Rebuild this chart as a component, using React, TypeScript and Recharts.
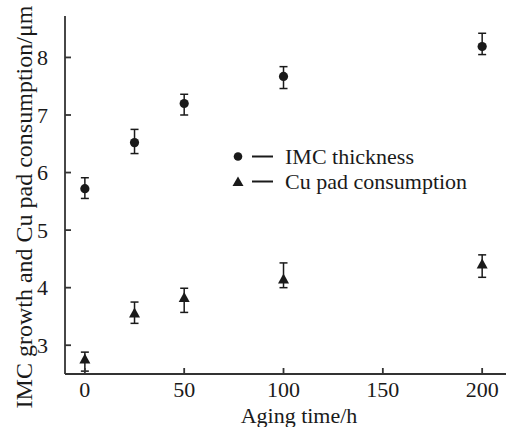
import React from 'react';
import { ScatterChart, Scatter, XAxis, YAxis, ErrorBar, Legend } from 'recharts';

// aging time (h)
const agingTime = [0, 25, 50, 100, 200];

// IMC thickness (um) with asymmetric error (down / up)
const imcThickness = [5.72, 6.52, 7.2, 7.67, 8.19];
const imcErrDown = [0.17, 0.19, 0.2, 0.21, 0.14];
const imcErrUp = [0.19, 0.23, 0.16, 0.17, 0.23];

// Cu pad consumption (um)
const cuConsumption = [2.76, 3.56, 3.83, 4.15, 4.41];
const cuErrDown = [0.21, 0.18, 0.26, 0.15, 0.23];
const cuErrUp = [0.12, 0.19, 0.16, 0.28, 0.16];

const xTicks = [0, 50, 100, 150, 200];
const yTicks = [3, 4, 5, 6, 7, 8];

const seriesNames = ['IMC thickness', 'Cu pad consumption'];

const INK = '#1a1a1a';
const AXIS = '#333';
const FONT = '"Liberation Serif", "Times New Roman", serif';

const imcData = agingTime.map((t, i) => ({
  x: t,
  y: imcThickness[i],
  err: [imcErrDown[i], imcErrUp[i]],
}));

const cuData = agingTime.map((t, i) => ({
  x: t,
  y: cuConsumption[i],
  err: [cuErrDown[i], cuErrUp[i]],
}));

const Dot = (props: any) => {
  const { cx, cy } = props;
  if (cx == null || cy == null) return null;
  return <circle cx={cx} cy={cy} r={4.6} fill={INK} />;
};

const Tri = (props: any) => {
  const { cx, cy } = props;
  if (cx == null || cy == null) return null;
  return <polygon points={`${cx - 5.5},${cy + 4.5} ${cx + 5.5},${cy + 4.5} ${cx},${cy - 5.5}`} fill={INK} />;
};

const LegendBox = () => (
  <div style={{ fontFamily: FONT, fontSize: 22, color: INK }}>
    {seriesNames.map((name, i) => (
      <div key={name} style={{ display: 'flex', alignItems: 'center', height: 25 }}>
        <svg width={50} height={25} style={{ flexShrink: 0 }}>
          {i === 0 ? (
            <circle cx={8} cy={12.5} r={4.3} fill={INK} />
          ) : (
            <polygon points="2.5,17 13.5,17 8,7.5" fill={INK} />
          )}
          <line x1={22} x2={43} y1={12.5} y2={12.5} stroke={INK} strokeWidth={2} />
        </svg>
        <span style={{ marginLeft: 5, lineHeight: '25px', whiteSpace: 'nowrap' }}>{name}</span>
      </div>
    ))}
  </div>
);

export default function App() {
  return (
    <div
      style={{
        position: 'absolute',
        left: 0,
        top: 0,
        width: 506,
        height: 427,
        overflow: 'hidden',
        background: '#fff',
        fontFamily: FONT,
      }}
    >
      <ScatterChart width={510} height={427} margin={{ top: 16, right: 4, bottom: 0, left: 0 }}>
        <XAxis
          dataKey="x"
          type="number"
          domain={[-10, 212]}
          ticks={xTicks}
          height={53}
          tickSize={-6}
          tickMargin={13}
          stroke={AXIS}
          strokeWidth={1.8}
          tick={{ fill: INK, fontSize: 22, fontFamily: FONT }}
        />
        <XAxis
          xAxisId="top"
          orientation="top"
          type="number"
          domain={[-10, 212]}
          height={0}
          tick={false}
          tickLine={false}
          stroke={AXIS}
          strokeWidth={1.8}
        />
        <YAxis
          dataKey="y"
          type="number"
          domain={[2.5, 8.72]}
          ticks={yTicks}
          width={65}
          tickSize={-6}
          tickMargin={23}
          stroke={AXIS}
          strokeWidth={1.8}
          tick={{ fill: INK, fontSize: 22, fontFamily: FONT }}
        />
        <Legend
          layout="horizontal"
          verticalAlign="middle"
          align="center"
          content={() => <LegendBox />}
          wrapperStyle={{ position: 'absolute', left: 230, top: 144, width: 270 }}
        />
        <Scatter name={seriesNames[0]} data={imcData} shape={<Dot />} isAnimationActive={false}>
          <ErrorBar dataKey="err" direction="y" width={4} stroke={INK} strokeWidth={1.5} />
        </Scatter>
        <Scatter name={seriesNames[1]} data={cuData} shape={<Tri />} isAnimationActive={false}>
          <ErrorBar dataKey="err" direction="y" width={4} stroke={INK} strokeWidth={1.5} />
        </Scatter>
        <text
          x={32}
          y={207}
          transform="rotate(-90, 32, 207)"
          textAnchor="middle"
          fontSize={24}
          fontFamily={FONT}
          fill={INK}
        >
          IMC growth and Cu pad consumption/μm
        </text>
        <text x={299} y={423} textAnchor="middle" fontSize={22} fontFamily={FONT} fill={INK}>
          Aging time/h
        </text>
      </ScatterChart>
    </div>
  );
}
